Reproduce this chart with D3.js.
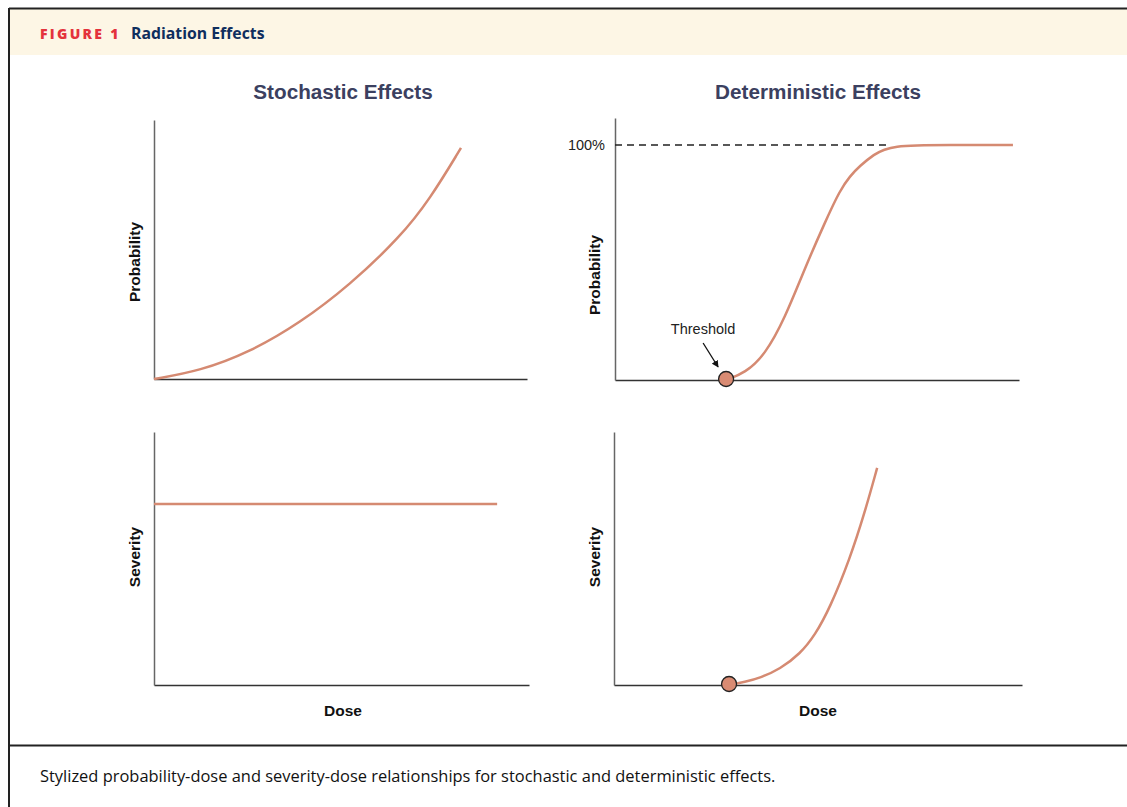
<!DOCTYPE html>
<html><head><meta charset="utf-8">
<script src="https://cdn.jsdelivr.net/npm/d3@7"></script>
<style>
html,body{margin:0;padding:0;background:#fff;}
svg{display:block;}
</style></head>
<body>
<svg id="chart" width="1127" height="807"></svg>
<script>
// ---- data ----
const figureLabel = "FIGURE 1";
const figureTitle = "Radiation Effects";
const columnTitles = ["Stochastic Effects", "Deterministic Effects"];
const yLabels = ["Probability", "Probability", "Severity", "Severity"];
const xLabel = "Dose";
const caption = "Stylized probability-dose and severity-dose relationships for stochastic and deterministic effects.";
// stochastic probability (dose, value)
const stochProbDose  = [0, 12.3, 25.7, 39.1, 52.5, 66.0, 74.0, 82.3];
const stochProbValue = [0, 3.1, 10.4, 21.6, 36.3, 54.8, 69.5, 89.2];
// stochastic severity
const stochSevDose  = [0, 91.5];
const stochSevValue = [71.5, 71.5];
// deterministic probability
const detProbDose  = [27.5, 32.2, 37.1, 42.1, 47.0, 52.0, 55.7, 58.2, 60.6, 63.9, 68.1, 83.0, 98.5];
const detProbValue = [0, 2.7, 9.5, 23.7, 42.7, 60.3, 72.5, 77.9, 81.7, 85.9, 89.7, 89.7, 89.7];
const hundredPct = 89.7;
const hundredLabel = "100%";
const thresholdDose = 27.5;
const thresholdLabel = "Threshold";
// deterministic severity
const detSevDose  = [28.2, 32.1, 35.8, 40.7, 45.6, 49.3, 52.9, 57.8, 61.5, 64.5];
const detSevValue = [0, 1.2, 2.8, 6.3, 12.3, 19.8, 30.4, 49.8, 68.4, 85.8];

// ---- layout ----
const svg = d3.select("#chart");
const curveColor = "#d58a72";
const titleColor = "#3b4060";

// frame
svg.append("rect").attr("x", 10).attr("y", 9).attr("width", 1127).attr("height", 46).attr("fill", "#fdf6e5");
svg.append("line").attr("x1", 9).attr("x2", 1127).attr("y1", 8.5).attr("y2", 8.5).attr("stroke", "#222").attr("stroke-width", 2);
svg.append("line").attr("x1", 9).attr("x2", 9).attr("y1", 8).attr("y2", 807).attr("stroke", "#222").attr("stroke-width", 2);
svg.append("line").attr("x1", 9).attr("x2", 1127).attr("y1", 745.5).attr("y2", 745.5).attr("stroke", "#222").attr("stroke-width", 2);

svg.append("text").attr("x", 40).attr("y", 39).text(figureLabel)
  .attr("font-family", "'Open Sans', Lato, sans-serif").attr("font-weight", 800).attr("font-size", 14)
  .attr("letter-spacing", 2.3).attr("fill", "#e4333c");
svg.append("text").attr("x", 131).attr("y", 39).text(figureTitle)
  .attr("font-family", "'Open Sans', Lato, sans-serif").attr("font-weight", 700).attr("font-size", 15.8)
  .attr("fill", "#0f2e5e");
svg.append("text").attr("x", 40).attr("y", 782).text(caption)
  .attr("font-family", "'Open Sans', Lato, sans-serif").attr("font-size", 16.45)
  .attr("fill", "#111");

const panels = [
  {x0:154, x1:527, y0:379, y1:120},
  {x0:615, x1:1019, y0:380, y1:118},
  {x0:154, x1:529, y0:685, y1:432},
  {x0:614, x1:1022, y0:685, y1:432}
];
const labelFont = "'Liberation Sans', Arial, sans-serif";

columnTitles.forEach((t, i) => {
  svg.append("text").attr("x", i === 0 ? 343 : 818).attr("y", 99).attr("text-anchor", "middle")
    .attr("font-family", labelFont).attr("font-weight", 700).attr("font-size", 20.7)
    .attr("fill", titleColor).text(t);
});

const scales = panels.map(p => ({
  x: d3.scaleLinear().domain([0, 100]).range([p.x0, p.x1]),
  y: d3.scaleLinear().domain([0, 100]).range([p.y0, p.y1])
}));

panels.forEach((p, i) => {
  const g = svg.append("g");
  const s = scales[i];
  const xa = d3.axisBottom(s.x).tickValues([]).tickSizeOuter(0);
  const ya = d3.axisLeft(s.y).tickValues([]).tickSizeOuter(0);
  g.append("g").attr("transform", `translate(0,${p.y0})`).call(xa)
    .select(".domain").attr("stroke", "#333").attr("stroke-width", 1.5);
  g.append("g").attr("transform", `translate(${p.x0},0)`).call(ya)
    .select(".domain").attr("stroke", "#666").attr("stroke-width", 1.5);
  const lx = i % 2 === 0 ? 140 : 600;
  const lyc = [262, 275, 557, 557][i];
  svg.append("text").attr("transform", `translate(${lx},${lyc}) rotate(-90)`)
    .attr("text-anchor", "middle").attr("font-family", labelFont).attr("font-weight", 700)
    .attr("font-size", 15.5).attr("fill", "#111").text(yLabels[i]);
  if (i >= 2) {
    svg.append("text").attr("x", i === 2 ? 343 : 818).attr("y", 716).attr("text-anchor", "middle")
      .attr("font-family", labelFont).attr("font-weight", 700).attr("font-size", 15.5)
      .attr("fill", "#111").text(xLabel);
  }
});

function drawCurve(i, xs, ys, curve) {
  const s = scales[i];
  const line = d3.line().x(d => s.x(d[0])).y(d => s.y(d[1])).curve(curve);
  svg.append("path").datum(d3.zip(xs, ys)).attr("d", line)
    .attr("fill", "none").attr("stroke", curveColor).attr("stroke-width", 2.5)
    .attr("stroke-linecap", "butt");
}

// dashed 100% line
{
  const s = scales[1];
  svg.append("line").attr("x1", s.x(0)).attr("x2", s.x(detProbDose[detProbDose.length - 3]))
    .attr("y1", s.y(hundredPct)).attr("y2", s.y(hundredPct))
    .attr("stroke", "#222").attr("stroke-width", 1.5).attr("stroke-dasharray", "7,5");
  svg.append("text").attr("x", s.x(0) - 10).attr("y", s.y(hundredPct) + 5).attr("text-anchor", "end")
    .attr("font-family", labelFont).attr("font-size", 14.5).attr("fill", "#222").text(hundredLabel);
}

drawCurve(0, stochProbDose, stochProbValue, d3.curveBasis);
drawCurve(2, stochSevDose, stochSevValue, d3.curveLinear);
drawCurve(1, detProbDose, detProbValue, d3.curveBasis);
drawCurve(3, detSevDose, detSevValue, d3.curveBasis);

// threshold markers
[[1, thresholdDose], [3, detSevDose[0]]].forEach(([i, d]) => {
  const s = scales[i];
  svg.append("circle").attr("cx", s.x(d)).attr("cy", s.y(0) - 1).attr("r", 7.5)
    .attr("fill", "#d98b73").attr("stroke", "#222").attr("stroke-width", 1.3);
});

// threshold annotation
{
  const s = scales[1];
  const cx = s.x(thresholdDose), cy = s.y(0);
  svg.append("defs").append("marker").attr("id", "arr").attr("viewBox", "0 0 10 10")
    .attr("refX", 9).attr("refY", 5).attr("markerWidth", 7).attr("markerHeight", 7)
    .attr("orient", "auto").attr("markerUnits", "userSpaceOnUse")
    .append("path").attr("d", "M0,0 L10,5 L0,10 z").attr("fill", "#111");
  svg.append("line").attr("x1", cx - 23).attr("y1", cy - 37).attr("x2", cx - 8).attr("y2", cy - 13)
    .attr("stroke", "#111").attr("stroke-width", 1.3).attr("marker-end", "url(#arr)");
  svg.append("text").attr("x", cx - 23).attr("y", cy - 46).attr("text-anchor", "middle")
    .attr("font-family", labelFont).attr("font-size", 14.5).attr("fill", "#222").text(thresholdLabel);
}
</script>
</body></html>
